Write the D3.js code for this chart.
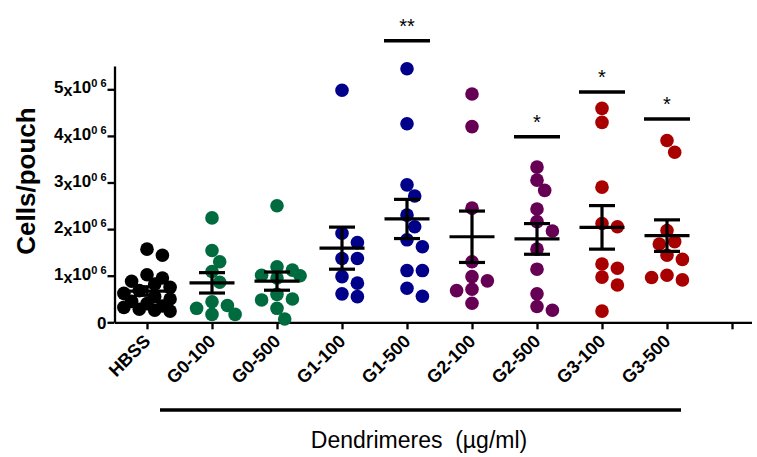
<!DOCTYPE html>
<html lang="en">
<meta charset="UTF-8">
<title>Cells/pouch by dendrimer</title>
<script src="https://d3js.org/d3.v7.min.js"></script>
<style>
  body { margin: 0; background: #fff; }
  text { font-family: "Liberation Sans", Arial, sans-serif; }
</style>
<body>
<div id="chart"></div>
<script>
// groups on the x axis (last tick is left empty, like the original)
var groups = ["HBSS", "G0-100", "G0-500", "G1-100", "G1-500", "G2-100", "G2-500", "G3-100", "G3-500"];
var colors = ["#000000", "#006b3f", "#006b3f", "#00008b", "#00008b", "#660055", "#660055", "#a80000", "#a80000"];

// cells per pouch, in millions
var hbss  = [1.57, 1.44, 1.02, 0.95, 0.88, 0.82, 0.75, 0.68, 0.62, 0.55, 0.50, 0.45, 0.40, 0.35, 0.32, 0.28, 0.26, 0.24];
var g0100 = [2.24, 1.54, 1.30, 1.09, 0.86, 0.44, 0.36, 0.30, 0.17, 0.17];
var g0500 = [2.50, 1.19, 1.12, 1.01, 1.00, 0.95, 0.60, 0.50, 0.48, 0.30, 0.07];
var g1100 = [4.98, 1.91, 1.71, 1.37, 1.37, 0.98, 0.84, 0.61, 0.55];
var g1500 = [5.44, 4.26, 2.95, 2.71, 2.30, 2.05, 1.77, 1.62, 1.11, 1.11, 0.73, 0.56];
var g2100 = [4.90, 4.20, 2.45, 1.30, 0.98, 0.89, 0.71, 0.68, 0.41];
var g2500 = [3.33, 3.05, 2.83, 2.43, 2.16, 1.96, 1.57, 1.14, 0.61, 0.34, 0.26];
var g3100 = [4.59, 4.29, 2.90, 2.12, 2.05, 1.25, 1.16, 0.97, 0.80, 0.24];
var g3500 = [3.90, 3.65, 1.97, 1.73, 1.68, 1.44, 1.35, 1.01, 0.91, 0.96];
var values = [hbss, g0100, g0500, g1100, g1500, g2100, g2500, g3100, g3500];

// significance marks vs HBSS
var sigGroups = ["G1-500", "G2-500", "G3-100", "G3-500"];
var sigLevels = [6.04, 3.98, 4.94, 4.36];
var sigStars  = ["**", "*", "*", "*"];

var yTicks = [0, 1, 2, 3, 4, 5];

var W = 757, H = 457;
var svg = d3.select("#chart").append("svg")
    .attr("width", W).attr("height", H)
    .style("background", "#fff");

var x = d3.scaleLinear().domain([-0.5, 9.3]).range([114.5, 751.5]);
var y = d3.scaleLinear().domain([0, 5.5]).range([322.3, 66]);

// y axis
var yAxis = svg.append("g")
    .attr("transform", "translate(" + x(-0.5) + ",0)")
    .call(d3.axisLeft(y).tickValues(yTicks).tickSize(7).tickSizeOuter(0).tickFormat(""));

yAxis.selectAll(".tick").each(function(d) {
  var t = d3.select(this).append("text")
      .attr("x", -8).attr("dy", "0.36em")
      .attr("fill", "#000")
      .attr("text-anchor", "end")
      .style("font-weight", "bold");
  if (d === 0) {
    t.style("font-size", "17px").text("0");
  } else {
    t.append("tspan").style("font-size", "17px").text(d);
    t.append("tspan").style("font-size", "16px").attr("dy", 3).text("x");
    t.append("tspan").style("font-size", "17px").attr("dy", -3).text("10");
    t.append("tspan").style("font-size", "11px").attr("dy", -6).text("0 6");
  }
});

// x axis
var xAxis = svg.append("g")
    .attr("transform", "translate(0," + y(0) + ")")
    .call(d3.axisBottom(x).tickValues(d3.range(10)).tickSize(7).tickSizeOuter(0)
      .tickFormat(function(i) { return groups[i] || ""; }));

xAxis.selectAll(".tick text")
    .attr("fill", "#000")
    .style("font-size", "18px")
    .style("font-weight", "bold")
    .attr("text-anchor", "end")
    .attr("x", 0).attr("y", 0).attr("dy", 0)
    .attr("transform", "translate(4,20) rotate(-45)");

svg.selectAll(".domain, .tick line")
    .attr("stroke", "#000")
    .attr("stroke-width", 2.3);

// dots, spread sideways so they do not pile up
var r = 6.8, step = 7.7;
groups.forEach(function(g, gi) {
  var placed = [];
  values[gi].forEach(function(v) {
    var cy = y(v), best = null, bestDist = -1;
    var cands = [0, 1, -1, 2, -2, 3, -3];
    for (var k = 0; k < cands.length; k++) {
      var cx = x(gi) + cands[k] * step;
      var md = d3.min(placed, function(p) { return Math.hypot(p[0] - cx, p[1] - cy); });
      if (md === undefined) md = Infinity;
      if (md >= 2 * r * 0.9) { best = cx; break; }
      if (md > bestDist) { bestDist = md; best = cx; }
    }
    placed.push([best, cy]);
  });

  svg.append("g").selectAll("circle")
    .data(placed)
    .enter()
    .append("circle")
      .attr("cx", function(p) { return p[0]; })
      .attr("cy", function(p) { return p[1]; })
      .attr("r", r)
      .style("fill", colors[gi]);
});

// mean and SEM
groups.forEach(function(g, gi) {
  var vals = values[gi];
  var m = d3.mean(vals);
  var sem = d3.deviation(vals) / Math.sqrt(vals.length);
  var cx = x(gi);
  var eb = svg.append("g").attr("stroke", "#000").attr("stroke-width", 3.2);
  eb.append("line").attr("x1", cx - 22.5).attr("x2", cx + 22.5).attr("y1", y(m)).attr("y2", y(m));
  eb.append("line").attr("x1", cx).attr("x2", cx).attr("y1", y(m - sem)).attr("y2", y(m + sem));
  eb.append("line").attr("x1", cx - 13).attr("x2", cx + 13).attr("y1", y(m + sem)).attr("y2", y(m + sem));
  eb.append("line").attr("x1", cx - 13).attr("x2", cx + 13).attr("y1", y(m - sem)).attr("y2", y(m - sem));
});

// significance bars
sigGroups.forEach(function(g, i) {
  var cx = x(groups.indexOf(g));
  svg.append("line")
    .attr("x1", cx - 23).attr("x2", cx + 23)
    .attr("y1", y(sigLevels[i])).attr("y2", y(sigLevels[i]))
    .attr("stroke", "#000").attr("stroke-width", 3.5);
  svg.append("text")
    .attr("x", cx).attr("y", y(sigLevels[i]) - 8)
    .attr("text-anchor", "middle")
    .style("font-size", "20px")
    .text(sigStars[i]);
});

// y label
svg.append("text")
  .attr("transform", "rotate(-90)")
  .attr("x", -181).attr("y", 35)
  .attr("text-anchor", "middle")
  .style("font-size", "26px")
  .style("font-weight", "bold")
  .text("Cells/pouch");

// bracket below the dendrimer groups + its title
svg.append("line")
  .attr("x1", 160).attr("x2", 681)
  .attr("y1", 410).attr("y2", 410)
  .attr("stroke", "#000").attr("stroke-width", 3.5);

svg.append("text")
  .attr("x", 419).attr("y", 448)
  .attr("text-anchor", "middle")
  .style("font-size", "23px")
  .attr("xml:space", "preserve")
  .text("Dendrimeres  (µg/ml)");
</script>
</body>
</html>
